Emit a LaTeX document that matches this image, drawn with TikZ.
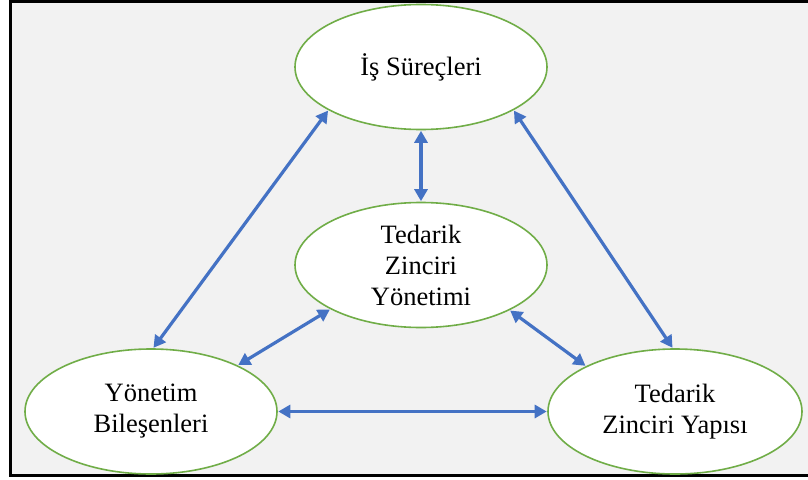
\documentclass[tikz,border=0pt]{standalone}
\usepackage{fontspec}
\setmainfont{Liberation Serif}
\usetikzlibrary{shapes.geometric,arrows.meta}
\definecolor{panel}{HTML}{F2F2F2}
\definecolor{ringgreen}{HTML}{70AD47}
\definecolor{linkblue}{HTML}{4472C4}
\tikzset{
  topic/.style={ellipse, draw=ringgreen, line width=1.6pt, fill=white,
    minimum width=252pt, minimum height=125pt, inner sep=0pt, align=center,
    font=\fontsize{26.5}{31}\selectfont},
  link/.style={draw=linkblue, line width=3.2pt,
    {Triangle[length=12pt,width=13pt]}-{Triangle[length=12pt,width=13pt]}, shorten <=0.5pt, shorten >=0.5pt}
}
\begin{document}
\begin{tikzpicture}[x=1pt,y=-1pt]
  \useasboundingbox (0,0) rectangle (808,479);
  % panel with frame
  \fill[panel] (10,1) rectangle (808,475.5);
  \draw[black, line width=3pt] (820,1) -- (10,1) -- (10,475.5) -- (820,475.5);
  % topics
  \node[topic] (proc) at (421,67) {İş Süreçleri};
  \node[topic] (scm) at (421,265) {Tedarik\\Zinciri\\Yönetimi};
  \node[topic] (mgmt) at (151,411.5) {Yönetim\\Bileşenleri};
  \node[topic, minimum width=254pt] (struct) at (675,411.5) {Tedarik\\Zinciri Yapısı};
  % links
  \draw[link] (proc) -- (scm);
  \draw[link] (proc.205) -- (mgmt.88);
  \draw[link] (proc.335) -- (struct.92);
  \draw[link] (scm.206.5) -- (mgmt.28);
  \draw[link] (scm.333.5) -- (struct.153);
  \draw[link] (mgmt) -- (struct);
\end{tikzpicture}
\end{document}
